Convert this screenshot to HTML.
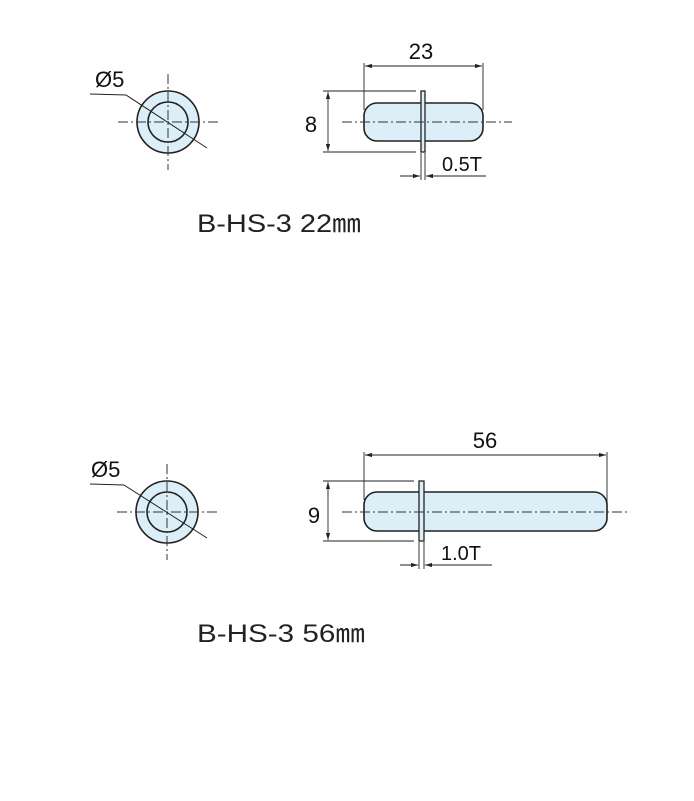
<!DOCTYPE html>
<html><head><meta charset="utf-8"><style>html,body{margin:0;padding:0;background:#fff}svg{display:block}</style></head>
<body>
<svg width="694" height="801" viewBox="0 0 694 801" xmlns="http://www.w3.org/2000/svg" font-family="Liberation Sans, sans-serif">
<defs>
<marker id="a" viewBox="0 0 10 6" refX="10" refY="3" markerWidth="8" markerHeight="5" orient="auto-start-reverse"><path d="M0,0L10,3L0,6z" fill="#222"/></marker>
</defs>
<g id="top">
<circle cx="168" cy="122" r="31" fill="#dceef8" stroke="#222" stroke-width="1.6"/>
<circle cx="168" cy="122" r="20" fill="#dceef8" stroke="#222" stroke-width="1.6"/>
<g stroke="#333" stroke-width="1" stroke-dasharray="10,3,2,3">
<line x1="168" y1="74" x2="168" y2="170"/><line x1="118" y1="122" x2="218" y2="122"/>
</g>
<polyline points="90,94 126,95 207,148" fill="none" stroke="#222" stroke-width="1"/>
<text x="95" y="87" font-size="22" fill="#111">Ø5</text>
<rect x="364" y="103" width="119" height="38" rx="13" fill="#dceef8" stroke="#222" stroke-width="1.6"/>
<rect x="421" y="91" width="4" height="61" fill="#dceef8" stroke="#222" stroke-width="1.3"/>
<line x1="342" y1="122" x2="512" y2="122" stroke="#333" stroke-width="1" stroke-dasharray="10,3,2,3"/>
<g stroke="#222" stroke-width="0.9" fill="none">
<line x1="364" y1="63" x2="364" y2="110"/><line x1="483" y1="63" x2="483" y2="110"/>
<line x1="365" y1="66" x2="482" y2="66" marker-start="url(#a)" marker-end="url(#a)"/>
<line x1="323" y1="91" x2="416" y2="91"/><line x1="323" y1="152" x2="416" y2="152"/>
<line x1="328" y1="92" x2="328" y2="151" marker-start="url(#a)" marker-end="url(#a)"/>
<line x1="421" y1="153" x2="421" y2="180"/><line x1="425" y1="153" x2="425" y2="180"/>
<line x1="400" y1="176" x2="420" y2="176" marker-end="url(#a)"/><line x1="486" y1="176" x2="426" y2="176" marker-end="url(#a)"/>
</g>
<text x="421" y="59" font-size="22" text-anchor="middle" fill="#111">23</text>
<text x="311" y="132" font-size="22" text-anchor="middle" fill="#111">8</text>
<text x="442" y="171" font-size="20" fill="#111">0.5T</text>
<text x="197" y="232" font-size="25" fill="#222" textLength="164" lengthAdjust="spacingAndGlyphs">B-HS-3 22㎜</text>
</g>
<g id="bot">
<circle cx="167" cy="512" r="31" fill="#dceef8" stroke="#222" stroke-width="1.6"/>
<circle cx="167" cy="512" r="20" fill="#dceef8" stroke="#222" stroke-width="1.6"/>
<g stroke="#333" stroke-width="1" stroke-dasharray="10,3,2,3">
<line x1="167" y1="464" x2="167" y2="560"/><line x1="117" y1="512" x2="217" y2="512"/>
</g>
<polyline points="90,484 124,485 207,538" fill="none" stroke="#222" stroke-width="1"/>
<text x="91" y="477" font-size="22" fill="#111">Ø5</text>
<rect x="364" y="492" width="243" height="39" rx="13" fill="#dceef8" stroke="#222" stroke-width="1.6"/>
<rect x="419" y="481" width="5" height="60" fill="#dceef8" stroke="#222" stroke-width="1.3"/>
<line x1="342" y1="512" x2="630" y2="512" stroke="#333" stroke-width="1" stroke-dasharray="10,3,2,3"/>
<g stroke="#222" stroke-width="0.9" fill="none">
<line x1="364" y1="452" x2="364" y2="500"/><line x1="607" y1="452" x2="607" y2="510"/>
<line x1="365" y1="455" x2="606" y2="455" marker-start="url(#a)" marker-end="url(#a)"/>
<line x1="323" y1="481" x2="414" y2="481"/><line x1="323" y1="541" x2="414" y2="541"/>
<line x1="328" y1="482" x2="328" y2="540" marker-start="url(#a)" marker-end="url(#a)"/>
<line x1="419" y1="542" x2="419" y2="569"/><line x1="424" y1="542" x2="424" y2="569"/>
<line x1="400" y1="565" x2="418" y2="565" marker-end="url(#a)"/><line x1="492" y1="565" x2="425" y2="565" marker-end="url(#a)"/>
</g>
<text x="485" y="448" font-size="22" text-anchor="middle" fill="#111">56</text>
<text x="314" y="523" font-size="22" text-anchor="middle" fill="#111">9</text>
<text x="441" y="560" font-size="20" fill="#111">1.0T</text>
<text x="197" y="642" font-size="25" fill="#222" textLength="168" lengthAdjust="spacingAndGlyphs">B-HS-3 56㎜</text>
</g>
</svg>
</body></html>
